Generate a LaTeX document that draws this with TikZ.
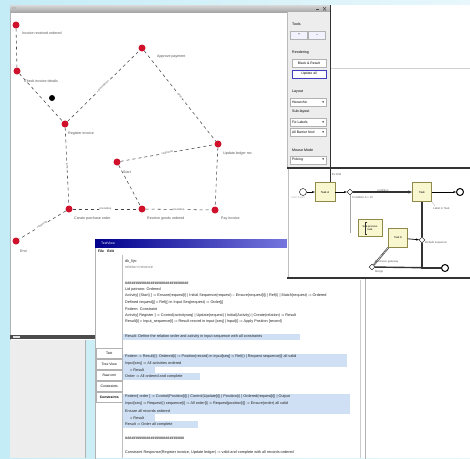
\documentclass[tikz,border=0pt]{standalone}
\usepackage{fontspec}
\setmainfont{Liberation Sans}
\newfontfamily\dvs{DejaVu Sans}
\usetikzlibrary{arrows.meta,shapes.geometric}
\definecolor{bgcyan}{HTML}{C4ECF6}
\definecolor{nodered}{HTML}{D0112B}
\definecolor{hl}{HTML}{CFE0F4}
\definecolor{taskfill}{HTML}{F8F7CF}
\definecolor{panelgray}{HTML}{EDEDED}
\newcommand{\dropmark}{{\dvs ▾}}
\tikzset{
  gnode/.style={circle, fill=nodered, inner sep=0pt, minimum size=7pt},
  glabel/.style={font=\fontsize{3.6}{4}\selectfont, text=gray!65!black, anchor=west, inner sep=0pt},
  gedge/.style={draw=gray!55!black, dashed, line width=0.55pt},
  elabel/.style={font=\fontsize{2.8}{3}\selectfont, text=gray!70!black, sloped, fill=white, inner sep=0.3pt},
  ptext/.style={font=\fontsize{3.6}{4}\selectfont, anchor=west, inner sep=0pt},
  pbutton/.style={draw=gray!60, fill=white, minimum width=34pt, minimum height=8pt, inner sep=0pt, font=\fontsize{3.4}{4}\selectfont},
  pdrop/.style={draw=gray!60, fill=white, minimum width=36pt, minimum height=8pt, inner sep=1pt, font=\fontsize{3.4}{4}\selectfont, text width=32pt, align=left},
  ttext/.style={font=\fontsize{3.8}{4}\selectfont, anchor=west, inner sep=0pt, text=black!85},
  tabbox/.style={draw=gray!60, fill=white, minimum width=26pt, minimum height=10pt, inner sep=0pt, font=\fontsize{3.4}{4}\selectfont},
  task/.style={draw=olive!50!gray, fill=taskfill, inner sep=0pt},
  gate/.style={diamond, draw=black, fill=white, inner sep=0pt, minimum size=6pt},
  evstart/.style={circle, draw=black, fill=white, inner sep=0pt, minimum size=7pt},
  evend/.style={circle, draw=black, line width=1pt, fill=white, inner sep=0pt, minimum size=7pt},
  flow/.style={draw=black, line width=0.7pt, -{Stealth[length=3pt]}},
  bflow/.style={draw=black!80, line width=1.4pt},
  blabel/.style={font=\fontsize{2.8}{3}\selectfont, text=gray!70!black, inner sep=0pt, anchor=west}
}
\begin{document}
\begin{tikzpicture}[x=1pt,y=-1pt]
\useasboundingbox (0,0) rectangle (470,458);
% background
\shade[left color=bgcyan, right color=bgcyan!40] (0,0) rectangle (470,458);

% ---------- top-right window behind ----------
\fill[white] (330,5) rectangle (470,168);
\draw[gray!35] (330,68) -- (470,68);

% ---------- bottom-right area ----------
\fill[white] (363,278) rectangle (470,458);

% ---------- main window ----------
\fill[white] (10,5) rectangle (330,340);
\shade[top color=gray!30, bottom color=gray!70] (10,5) rectangle (330,12);
\fill[gray!55] (12,6.5) rectangle (16,10.5);
\draw[gray!60!black, line width=0.5pt] (316,9) -- (319,9);
\draw[gray!60!black, line width=0.5pt] (323,7) -- (326,10.5) (326,7) -- (323,10.5);
\draw[gray!60] (10,12) -- (10,340);
\fill[gray!60!black] (10,335) rectangle (95,339);
\fill[gray!25] (13,335.5) rectangle (20,338);
\fill[panelgray] (10,340) rectangle (85,458);
\draw[gray!60] (85,340) -- (85,458);

% right control panel
\fill[panelgray] (287,12) rectangle (330,168);
\draw[gray!55] (287,12) -- (287,168);
\draw[gray!40!black, line width=0.8pt] (330,5) -- (330,183);
\node[ptext] (ptools) at (292,24) {Tools};
\node[pbutton, minimum width=17pt, fill=blue!5] (pb1) at (299,35) {+};
\node[pbutton, minimum width=17pt, fill=blue!5] (pb2) at (317,35) {--};
\node[ptext] (prend) at (292,53) {Rendering};
\node[pbutton] (pb3) at (309,63) {Black \& Result};
\node[pbutton, draw=blue!50!gray] (pb4) at (309,74) {Update all};
\node[ptext] (play) at (292,92) {Layout};
\node[pdrop] (pd1) at (308,102) {Hierarchic\hfill\dropmark};
\node[ptext] (psub) at (292,112) {Sub-layout};
\node[pdrop] (pd2) at (308,122) {Fix Labels\hfill\dropmark};
\node[pdrop] (pd3) at (308,132) {All Barrier Nod\hfill\dropmark};
\node[ptext] (pmouse) at (292,150) {Mouse Mode};
\node[pdrop] (pd4) at (308,160) {Picking\hfill\dropmark};

% ---------- graph ----------
\node[gnode] (n1) at (16,25) {};
\node[gnode] (n2) at (17,71) {};
\node[gnode] (n3) at (142,48) {};
\node[gnode] (n4) at (65,124) {};
\node[gnode] (n5) at (218,144) {};
\node[gnode] (n6) at (117,162) {};
\node[gnode] (n7) at (69,209) {};
\node[gnode] (n8) at (142,209) {};
\node[gnode] (n9) at (215,210) {};
\node[gnode] (n10) at (16,241) {};
\node[circle, fill=black, inner sep=0pt, minimum size=6pt] (dot) at (52,98) {};

\node[glabel] (l1) at (22,33) {Invoice received ordered};
\node[glabel] (l2) at (24,81) {Check invoice details};
\node[glabel] (l3) at (157,57) {Approve payment};
\node[glabel] (l4) at (68,134) {Register invoice};
\node[glabel] (l5) at (223,154) {Update ledger rec};
\node[glabel] (l6) at (123,172) {Start};
\node[glabel] (l7) at (74,219) {Create purchase order};
\node[glabel] (l8) at (147,219) {Receive goods ordered};
\node[glabel] (l9) at (221,219) {Pay invoice};
\node[glabel] (l10) at (20,251) {End};

\draw[gedge] (n1) -- (n2);
\draw[gedge] (n2) -- (n4);
\draw[gedge] (n4) -- node[elabel] {precedence} (n3);
\draw[gedge] (n3) -- node[elabel] {prec} (n5);
\draw[gedge] (n4) -- node[elabel] {prec} (n7);
\draw[gedge] (n5) -- (n9);
\draw[gedge] (n6) -- node[elabel] {response} (n5);
\draw[gedge] (n6) -- (n8);
\draw[gedge] (n7) -- node[elabel] {precedes} (n8);
\draw[gedge] (n8) -- node[elabel] {precedes} (n9);
\draw[gedge] (n7) -- node[elabel] {response} (n10);

% ---------- text window ----------
\fill[white] (95,239) rectangle (365,458);
\draw[gray!60] (95,239) rectangle (365,470);
\shade[left color=blue!55!black, right color=blue!35!white] (95,239) rectangle (365,247);
\node[font=\fontsize{3.4}{4}\selectfont, text=white, anchor=west, inner sep=0pt] (ttitle) at (101,243) {TextView};
\node[font=\bfseries\fontsize{3.4}{4}\selectfont, anchor=west, inner sep=0pt] (tmenu) at (98,251) {File\quad Edit};
\draw[gray!50] (122,255) -- (122,458);
\draw[gray!40] (360,280) -- (360,458);
\node[tabbox, anchor=west] (tab1) at (96,353) {Text};
\node[tabbox, anchor=west] (tab2) at (96,364) {Tree View};
\node[tabbox, anchor=west] (tab3) at (96,375) {Raw xml};
\node[tabbox, anchor=west] (tab4) at (96,386) {Constraints};
\node[tabbox, anchor=west, font=\bfseries\fontsize{3.4}{4}\selectfont] (tab5) at (96,397) {Constraints};

% highlighted blocks
\fill[hl] (123,334) rectangle (300,340);
\fill[hl] (123,354) rectangle (347,367);
\fill[hl] (123,367) rectangle (155,373);
\fill[hl] (123,373) rectangle (200,380);
\fill[hl] (123,394) rectangle (350,414);
\fill[hl] (123,414) rectangle (155,421);
\fill[hl] (123,421) rectangle (198,428);

\node[ttext] (x1) at (125,262) {dk\_lijn:};
\node[ttext, text=gray] (x2) at (125,267) {relation instance};
\node[ttext, font=\bfseries\fontsize{3.8}{4}\selectfont] (x3) at (125,283) {\#\#\#\#\#\#\#\#\#\#\#\#\#\#\#\#\#\#\#\#\#\#\#\#\#\#\#\#\#\#};
\node[ttext] (x4) at (125,290) {Lid patroon: Ordered};
\node[ttext] (x5) at (125,296) {Activity[ \{Start\} ] := Ensure(request[i] | Initial Sequence(request) -- Ensure(request[i]) | Ref(i) | Match(request) := Ordered};
\node[ttext] (x6) at (125,303) {Defined request[j] = Ref(j) in Input Seq(request) := Order[j]};
\node[ttext] (x7) at (125,309) {Pattern: Constraint};
\node[ttext] (x8) at (125,316) {Activity[ Register ] := Control(activityseq) | Update(request) | Initial(Activity) | Create(relation) := Result};
\node[ttext] (x9) at (125,322) {Result[i] = Input\_sequence[i] := Result record in input [seq] | Input[i] := Apply Position [record]};
\node[ttext] (x10) at (125,337) {Result: Define the relation order and activity in input sequence with all constraints};
\node[ttext] (x11) at (125,357) {Pattern := Result[i]: Ordered(i) := Position(record) in input[seq] := Ref(i) | Request sequence[i] all valid};
\node[ttext] (x12) at (125,364) {Input[seq] := All activities ordered};
\node[ttext] (x13) at (130,370) {= Result};
\node[ttext] (x14) at (125,377) {Order := All ordered and complete};
\node[ttext] (x15) at (125,397) {Pattern[ order ] := Control(Position[i]) | Control(Update[i]) | Position(i) | Ordered(request[i]) | Output};
\node[ttext] (x16) at (125,404) {Input[seq] := Request(i) sequence[i] := All order[i] := Request[position[i]] := Ensure(order) all valid};
\node[ttext] (x17) at (125,411) {Ensure all records ordered};
\node[ttext] (x18) at (130,418) {= Result};
\node[ttext] (x19) at (125,425) {Result := Order all complete};
\node[ttext, font=\bfseries\fontsize{3.8}{4}\selectfont] (x20) at (125,438) {\#\#\#\#\#\#\#\#\#\#\#\#\#\#\#\#\#\#\#\#\#\#\#\#\#\#\#\#};
\node[ttext] (x21) at (125,453) {Constraint Response(Register invoice, Update ledger) := valid and complete with all records ordered};

% ---------- BPMN window ----------
\fill[white] (287,168) rectangle (470,278);
\draw[gray!50] (288,168) -- (288,278);
\draw[black!80, line width=1.2pt] (287,168) -- (470,168);
\draw[black!80, line width=1.2pt] (287,278) -- (470,278);
\draw[gray!40!black, line width=0.8pt] (330,168) -- (330,183);
\node[blabel] (blt) at (332,174) {Ex End};

\node[evstart] (bs) at (303,192) {};
\node[blabel, text=gray!60] (bsl) at (291,198) {Start Event};
\node[task, minimum width=20pt, minimum height=19pt, font=\fontsize{2.8}{3}\selectfont] (t1) at (325,192) {Task A};
\node[gate] (g1) at (350,192) {};
\node[task, minimum width=19pt, minimum height=19pt, font=\fontsize{2.8}{3}\selectfont] (t2) at (422,192) {Task};
\node[evend] (e1) at (460,192) {};
\node[task, minimum width=24pt, minimum height=17pt, font=\fontsize{2.6}{3}\selectfont, align=center] (t3) at (370,228) {Sub-process\\task};
\node[task, minimum width=19pt, minimum height=19pt, font=\fontsize{2.6}{3}\selectfont] (t4) at (398,238) {Task D};
\node[gate] (g2) at (422,240) {};
\node[gate] (g3) at (372,267) {};
\node[evend] (e2) at (445,268) {};

\draw[flow] (bs) -- (t1);
\draw[flow] (t1) -- (g1);
\draw[bflow, -{Stealth[length=4pt]}] (g1) -- node[blabel, above, anchor=south] {condition} (t2);
\draw[flow] (t2) -- (e1);
\draw[bflow] (t2) -- (g2);
\draw[bflow] (g2) |- (e2);
\draw[draw=gray!70, line width=0.8pt] (g1) -- (350,233);
\draw[flow] (t4) -- (g2);
\draw[bflow] (g3) -- (e2);
\draw[draw=black!70, line width=1.8pt] (g3) -- (t4.south west);
\draw[draw=white, line width=0.6pt, dashed, dash pattern=on 1pt off 0.8pt] (g3) -- (t4.south west);
\draw[gray!60, line width=0.3pt] (t2.south east) -- (435,206);
\node[blabel] (t2l) at (433,208) {Label in Task};
\node[blabel] (g1l) at (352,197) {Condition A > 10};
\node[blabel] (g2l) at (425,243) {Default sequence};
\node[blabel] (g3l) at (375,262) {Exclusive gateway};
\node[blabel] (g3m) at (375,272) {Merge};
\draw[black!80] (367,222) -- (365,222) -- (365,234) -- (367,234);
\end{tikzpicture}
\end{document}
